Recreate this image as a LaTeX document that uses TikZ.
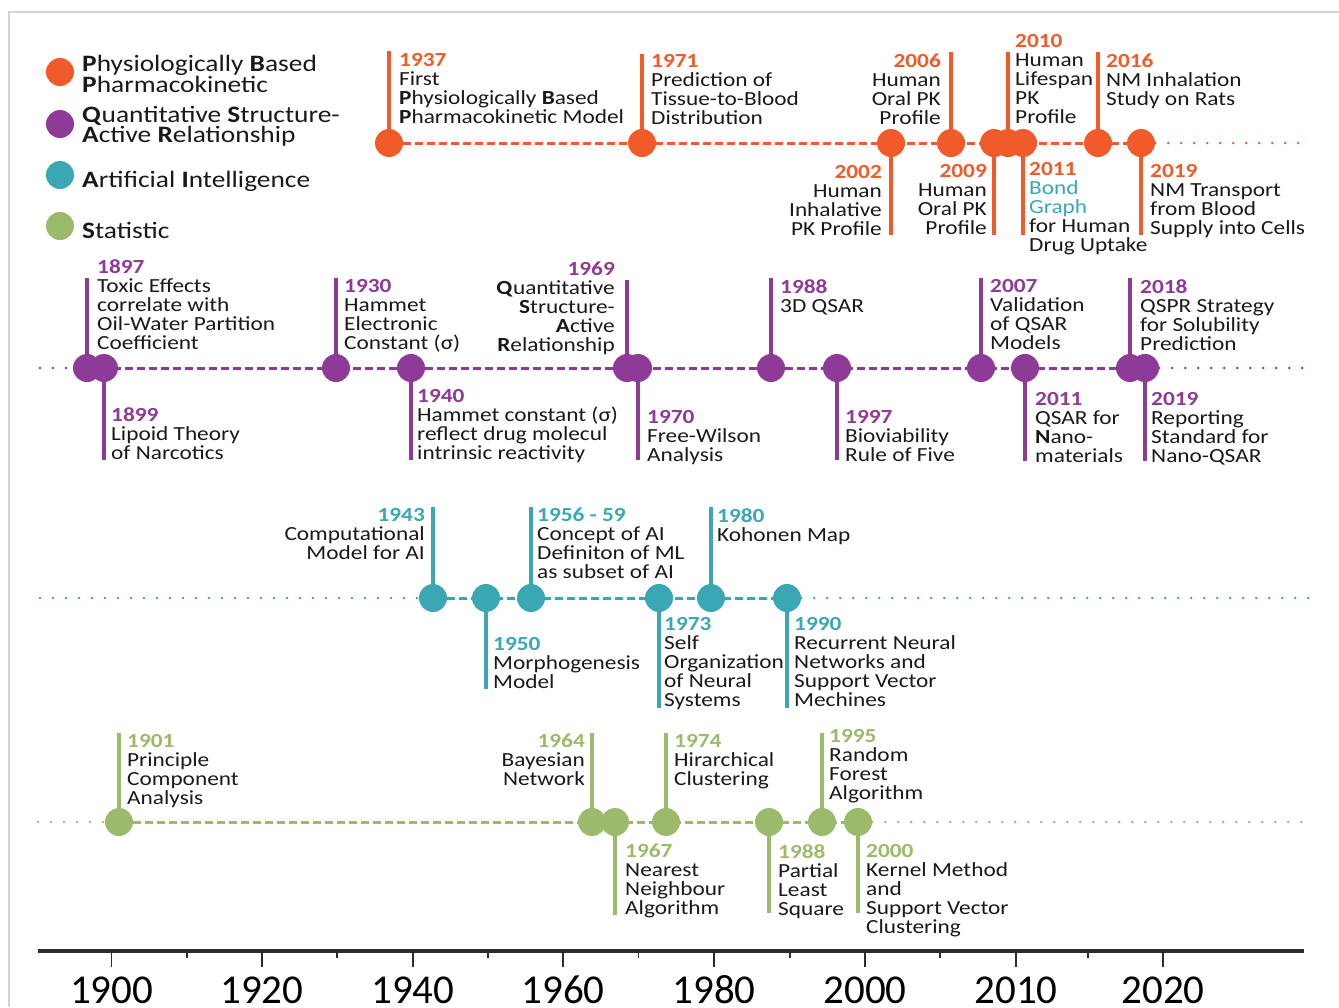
\documentclass[tikz,border=0pt]{standalone}
\usepackage{fontspec}
\setmainfont{Carlito}[FakeStretch=1.165]
\newfontfamily\axisfont{Carlito}
\usepackage{tikz}

\definecolor{pbpk}{HTML}{F15A29}
\definecolor{qsar}{HTML}{8E3B97}
\definecolor{aicol}{HTML}{3AA7B5}
\definecolor{stat}{HTML}{9BBA6B}
\definecolor{axisgray}{HTML}{2B2B2B}
\definecolor{framegray}{HTML}{D4D4D4}

\tikzset{
  dot/.style={circle, fill=#1, inner sep=0pt, minimum size=28pt},
  stem/.style={draw=#1, line width=3.2pt},
  dashline/.style={draw=#1, line width=3pt, dash pattern=on 8pt off 4pt},
  dotline/.style={draw=#1, line width=2.8pt, line cap=round, dash pattern=on 0pt off 13pt},
  lbl/.style={font=\fontsize{20}{19}\selectfont, inner sep=0pt, text=black!90},
  txtR/.style={lbl, anchor=north west, align=left},
  txtL/.style={lbl, anchor=north east, align=right},
  legtxt/.style={font=\fontsize{23.5}{20}\selectfont, inner sep=0pt, text=black!90, anchor=north west, align=left},
  yearlbl/.style={font=\axisfont\fontsize{41}{41}\selectfont, inner sep=0pt, anchor=base, text=black},
}

% dot on a row with its stem: name, x, row y, stem end y, colour
\newcommand{\event}[5]{\node[dot=#5] (#1) at (#2,#3) {}; \coordinate (#1-end) at (#2,#4); \draw[stem=#5] (#1) -- (#1-end);}
% text of an event: name, side style, x, baseline of year, text
\newcommand{\labl}[5]{\node[#2] (#1-txt) at (#3,#4-13) {#5};}
\newcommand{\yr}[2]{\textcolor{#1}{\textbf{#2}}}

\begin{document}
\begin{tikzpicture}[x=1pt, y=-1pt]
    \useasboundingbox (0,0) rectangle (1339,1007);
    \draw[framegray, line width=1.5pt] (9,1007) -- (9,12) -- (1339,12);

    % legend
    \node[dot=pbpk] (leg1) at (60,72) {};
    \node[legtxt] (leg1-txt) at (82,55) {\textbf{P}hysiologically \textbf{B}ased\\\textbf{P}harmacokinetic};
    \node[dot=qsar] (leg2) at (60,124) {};
    \node[legtxt] (leg2-txt) at (82,106) {\textbf{Q}uantitative \textbf{S}tructure-\\\textbf{A}ctive \textbf{R}elationship};
    \node[dot=aicol] (leg3) at (60,175) {};
    \node[legtxt] (leg3-txt) at (82,171) {\textbf{A}rtificial \textbf{I}ntelligence};
    \node[dot=stat] (leg4) at (60,226) {};
    \node[legtxt] (leg4-txt) at (82,222) {\textbf{S}tatistic};

    % row 1: PBPK
    \event{p1937}{389}{143}{51}{pbpk}
    \labl{p1937}{txtR}{399}{66}{\yr{pbpk}{1937}\\First\\\textbf{P}hysiologically \textbf{B}ased\\\textbf{P}harmacokinetic Model}
    \event{p1971}{642}{143}{54}{pbpk}
    \labl{p1971}{txtR}{651}{67}{\yr{pbpk}{1971}\\Prediction of\\Tissue-to-Blood\\Distribution}
    \event{p2002}{891}{143}{235}{pbpk}
    \labl{p2002}{txtL}{882}{178}{\yr{pbpk}{2002}\\Human\\Inhalative\\PK Profile}
    \event{p2006}{951}{143}{52}{pbpk}
    \labl{p2006}{txtL}{941}{67}{\yr{pbpk}{2006}\\Human\\Oral PK\\Profile}
    \event{p2009}{994}{143}{235}{pbpk}
    \labl{p2009}{txtL}{987}{177}{\yr{pbpk}{2009}\\Human\\Oral PK\\Profile}
    \event{p2010}{1008}{143}{52}{pbpk}
    \labl{p2010}{txtR}{1015}{47}{\yr{pbpk}{2010}\\Human\\Lifespan\\PK\\Profile}
    \event{p2011}{1023}{143}{235}{pbpk}
    \labl{p2011}{txtR}{1029}{175}{\yr{pbpk}{2011}\\\textcolor{aicol}{Bond}\\\textcolor{aicol}{Graph}\\for Human\\Drug Uptake}
    \event{p2016}{1098}{143}{52}{pbpk}
    \labl{p2016}{txtR}{1106}{67}{\yr{pbpk}{2016}\\NM Inhalation\\Study on Rats}
    \event{p2019}{1141}{143}{235}{pbpk}
    \labl{p2019}{txtR}{1150}{177}{\yr{pbpk}{2019}\\NM Transport\\from Blood\\Supply into Cells}
    \coordinate (p-right) at (1309,143);
    \draw[dashline=pbpk] (p1937) -- (p2019);
    \draw[dotline=pbpk] (p2019) -- (p-right);

    % row 2: QSAR
    \event{q1897}{87}{368}{278}{qsar}
    \labl{q1897}{txtR}{97}{272}{\yr{qsar}{1897}\\Toxic Effects\\correlate with\\Oil-Water Partition\\Coefficient}
    \event{q1899}{104}{368}{460}{qsar}
    \labl{q1899}{txtR}{111}{420}{\yr{qsar}{1899}\\Lipoid Theory\\of Narcotics}
    \event{q1930}{336}{368}{278}{qsar}
    \labl{q1930}{txtR}{344}{292}{\yr{qsar}{1930}\\Hammet\\Electronic\\Constant (σ)}
    \event{q1940}{411}{368}{460}{qsar}
    \labl{q1940}{txtR}{417}{402}{\yr{qsar}{1940}\\Hammet constant (σ)\\reflect drug molecul\\intrinsic reactivity}
    \event{q1969}{627}{368}{280}{qsar}
    \labl{q1969}{txtL}{615}{275}{\yr{qsar}{1969}\\\textbf{Q}uantitative\\\textbf{S}tructure-\\\textbf{A}ctive\\\textbf{R}elationship}
    \event{q1970}{638}{368}{460}{qsar}
    \labl{q1970}{txtR}{647}{423}{\yr{qsar}{1970}\\Free-Wilson\\Analysis}
    \event{q1988}{771}{368}{278}{qsar}
    \labl{q1988}{txtR}{780}{292}{\yr{qsar}{1988}\\3D QSAR}
    \event{q1997}{837}{368}{460}{qsar}
    \labl{q1997}{txtR}{845}{423}{\yr{qsar}{1997}\\Bioviability\\Rule of Five}
    \event{q2007}{981}{368}{278}{qsar}
    \labl{q2007}{txtR}{990}{292}{\yr{qsar}{2007}\\Validation\\of QSAR\\Models}
    \event{q2011}{1025}{368}{461}{qsar}
    \labl{q2011}{txtR}{1035}{405}{\yr{qsar}{2011}\\QSAR for\\\textbf{N}ano-\\materials}
    \event{q2018}{1130}{368}{278}{qsar}
    \labl{q2018}{txtR}{1140}{292}{\yr{qsar}{2018}\\QSPR Strategy\\for Solubility\\Prediction}
    \event{q2019}{1145}{368}{461}{qsar}
    \labl{q2019}{txtR}{1151}{405}{\yr{qsar}{2019}\\Reporting\\Standard for\\Nano-QSAR}
    \coordinate (q-left) at (40,368);
    \coordinate (q-right) at (1315,368);
    \draw[dotline=qsar] (q-left) -- (q1897);
    \draw[dashline=qsar] (q1897) -- (q2019);
    \draw[dotline=qsar] (q2019) -- (q-right);

    % row 3: AI
    \event{a1943}{433}{598}{507}{aicol}
    \labl{a1943}{txtL}{425}{521}{\yr{aicol}{1943}\\Computational\\Model for AI}
    \event{a1950}{486}{598}{689}{aicol}
    \labl{a1950}{txtR}{493}{650}{\yr{aicol}{1950}\\Morphogenesis\\Model}
    \event{a1956}{531}{598}{507}{aicol}
    \labl{a1956}{txtR}{537}{521}{\yr{aicol}{1956 - 59}\\Concept of AI\\Definiton of ML\\as subset of AI}
    \event{a1973}{659}{598}{708}{aicol}
    \labl{a1973}{txtR}{664}{630}{\yr{aicol}{1973}\\Self\\Organization\\of Neural\\Systems}
    \event{a1980}{711}{598}{507}{aicol}
    \labl{a1980}{txtR}{717}{521}{\yr{aicol}{1980}\\Kohonen Map}
    \event{a1990}{787}{598}{708}{aicol}
    \labl{a1990}{txtR}{794}{630}{\yr{aicol}{1990}\\Recurrent Neural\\Networks and\\Support Vector\\Mechines}
    \coordinate (a-left) at (40,598);
    \coordinate (a-right) at (1310,598);
    \draw[dotline=aicol] (a-left) -- (a1943);
    \draw[dashline=aicol] (a1943) -- (a1990);
    \draw[dotline=aicol] (a1990) -- (a-right);

    % row 4: statistic
    \event{s1901}{119}{822}{733}{stat}
    \labl{s1901}{txtR}{127}{747}{\yr{stat}{1901}\\Principle\\Component\\Analysis}
    \event{s1964}{592}{822}{733}{stat}
    \labl{s1964}{txtL}{585}{747}{\yr{stat}{1964}\\Bayesian\\Network}
    \event{s1967}{615}{822}{915}{stat}
    \labl{s1967}{txtR}{625}{857}{\yr{stat}{1967}\\Nearest\\Neighbour\\Algorithm}
    \event{s1974}{666}{822}{733}{stat}
    \labl{s1974}{txtR}{674}{747}{\yr{stat}{1974}\\Hirarchical\\Clustering}
    \event{s1988}{769}{822}{913}{stat}
    \labl{s1988}{txtR}{778}{857}{\yr{stat}{1988}\\Partial\\Least\\Square}
    \event{s1995}{822}{822}{733}{stat}
    \labl{s1995}{txtR}{829}{742}{\yr{stat}{1995}\\Random\\Forest\\Algorithm}
    \event{s2000}{858}{822}{913}{stat}
    \labl{s2000}{txtR}{866}{857}{\yr{stat}{2000}\\Kernel Method\\and\\Support Vector\\Clustering}
    \coordinate (s-left) at (38,822);
    \coordinate (s-right) at (1309,822);
    \draw[dotline=stat] (s-left) -- (s1901);
    \draw[dashline=stat] (s1901) -- (s2000);
    \draw[dotline=stat] (s2000) -- (s-right);

    % time axis
    \draw[axisgray, line width=3.5pt] (38,951) -- (1304,951);
    \foreach \x/\yy in {111.6/1900, 261.8/1920, 412.9/1940, 563/1960, 714/1980, 865/2000, 1016/2010, 1163/2020} {
        \draw[axisgray, line width=1.5pt] (\x,951) -- (\x,967);
        \node[yearlbl] (ax\yy) at (\x,1003) {\yy};
    }
    \foreach \x in {187, 337, 488, 638.6, 790, 940, 1088}
        \draw[axisgray, line width=1.5pt] (\x,951) -- (\x,958);
\end{tikzpicture}
\end{document}
